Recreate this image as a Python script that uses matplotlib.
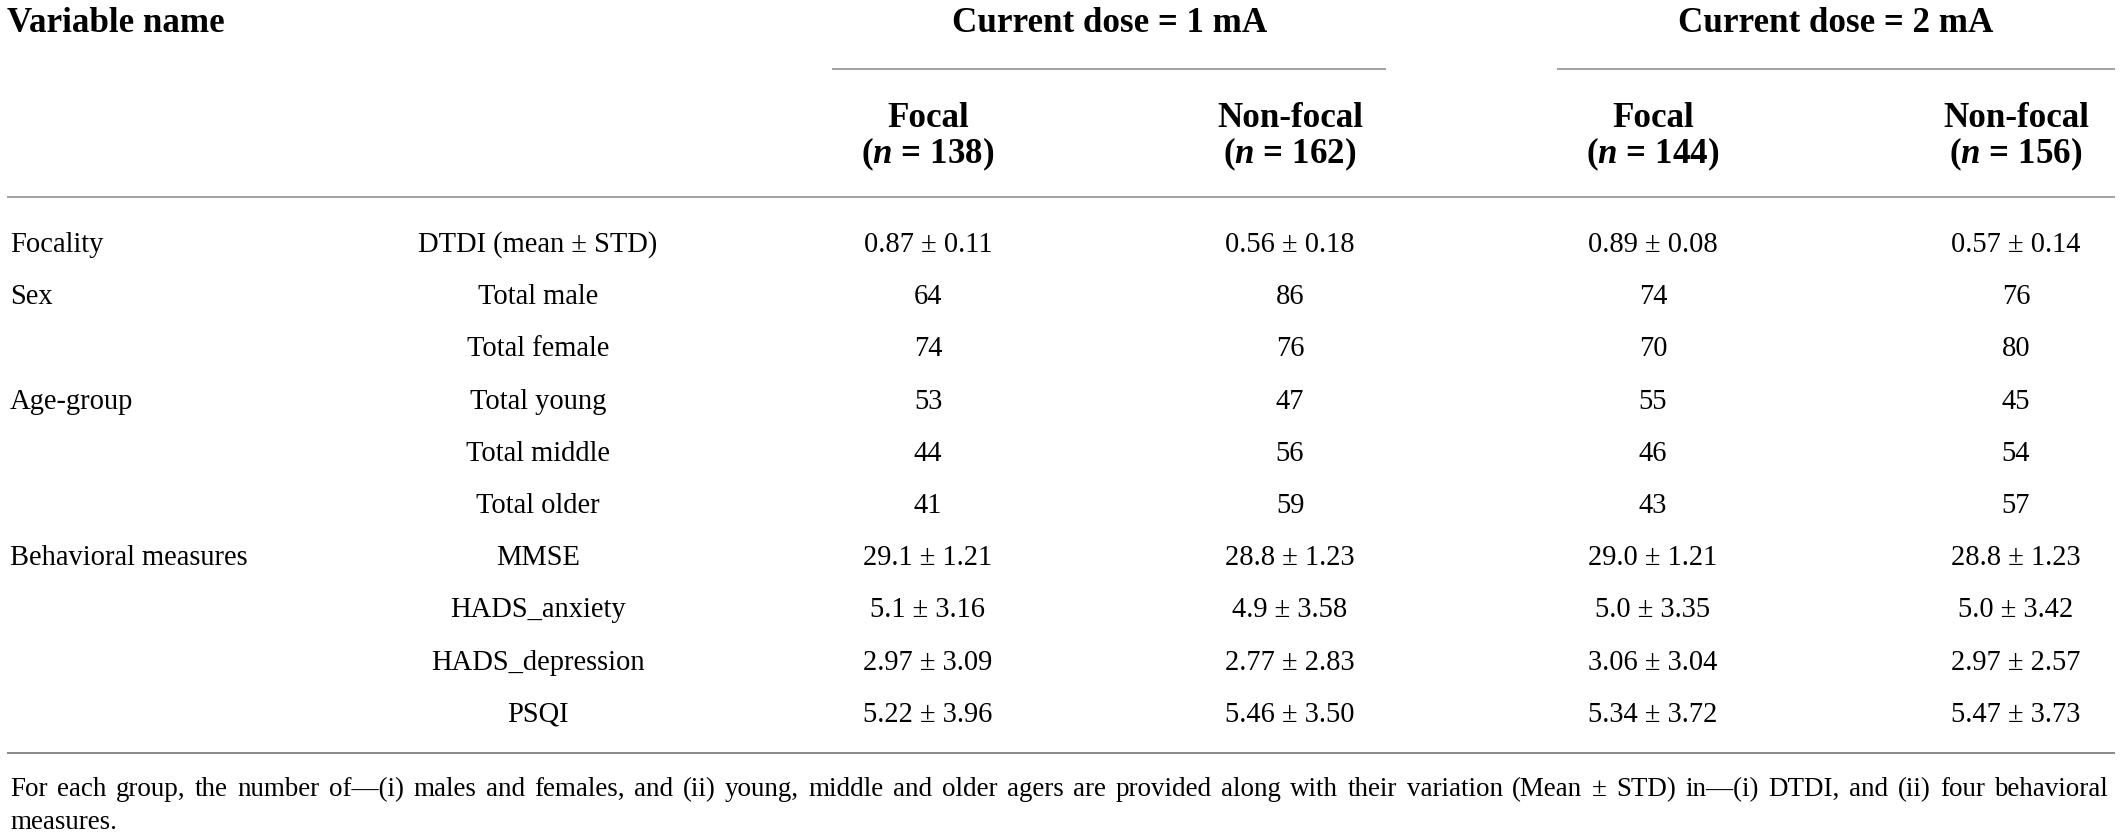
import matplotlib
matplotlib.use("Agg")
import matplotlib.pyplot as plt

plt.rcParams['font.family'] = ['Liberation Serif', 'DejaVu Serif']
plt.rcParams['mathtext.fontset'] = 'custom'
plt.rcParams['mathtext.it'] = 'Liberation Serif:italic:bold'
plt.rcParams['mathtext.rm'] = 'Liberation Serif:bold'

# ---------------- data ----------------
header_first = "Variable name"
dose_groups = ["Current dose = 1 mA", "Current dose = 2 mA"]
subgroups = ["Focal", "Non-focal", "Focal", "Non-focal"]
group_n = [138, 162, 144, 156]
categories = ["Focality", "Sex", "", "Age-group", "", "", "Behavioral measures", "", "", ""]
variables = ["DTDI (mean \u00b1 STD)", "Total male", "Total female", "Total young",
             "Total middle", "Total older", "MMSE", "HADS_anxiety",
             "HADS_depression", "PSQI"]
focal_1mA = ["0.87 \u00b1 0.11", "64", "74", "53", "44", "41",
             "29.1 \u00b1 1.21", "5.1 \u00b1 3.16", "2.97 \u00b1 3.09", "5.22 \u00b1 3.96"]
nonfocal_1mA = ["0.56 \u00b1 0.18", "86", "76", "47", "56", "59",
                "28.8 \u00b1 1.23", "4.9 \u00b1 3.58", "2.77 \u00b1 2.83", "5.46 \u00b1 3.50"]
focal_2mA = ["0.89 \u00b1 0.08", "74", "70", "55", "46", "43",
             "29.0 \u00b1 1.21", "5.0 \u00b1 3.35", "3.06 \u00b1 3.04", "5.34 \u00b1 3.72"]
nonfocal_2mA = ["0.57 \u00b1 0.14", "76", "80", "45", "54", "57",
                "28.8 \u00b1 1.23", "5.0 \u00b1 3.42", "2.97 \u00b1 2.57", "5.47 \u00b1 3.73"]
footnote = ("For each group, the number of\u2014(i) males and females, and (ii) young, middle and "
            "older agers are provided along with their variation (Mean \u00b1 STD) in\u2014(i) DTDI, "
            "and (ii) four behavioral", "measures.")

value_columns = [focal_1mA, nonfocal_1mA, focal_2mA, nonfocal_2mA]

# ---------------- layout (pixels) ----------------
W, H = 2121, 838
DPI = 100
px = 72.0 / DPI
fig = plt.figure(figsize=(W / DPI, H / DPI), dpi=DPI)
ax = fig.add_axes([0, 0, 1, 1])
ax.set_xlim(0, W)
ax.set_ylim(H, 0)
ax.axis('off')

HDR = 35 * px
BODY = 28.5 * px
FOOT = 27 * px

col_x = [928, 1290, 1653, 2016]
var_x = 538
cat_x = 10
group_x = [1110, 1836]
group_lines = [(832, 1386), (1557, 2115)]

# header
ax.text(7, 32, header_first, fontsize=HDR, fontweight='bold', ha='left', va='baseline')
for gx, g in zip(group_x, dose_groups):
    ax.text(gx, 32, g, fontsize=HDR, fontweight='bold', ha='center', va='baseline')
for x0, x1 in group_lines:
    ax.plot([x0, x1], [69, 69], color='#a3a3a3', lw=2 * px, solid_capstyle='butt')
for cx, sg, n in zip(col_x, subgroups, group_n):
    ax.text(cx, 127, sg, fontsize=HDR, fontweight='bold', ha='center', va='baseline')
    ax.text(cx, 163, "($n$ = %d)" % n, fontsize=HDR, fontweight='bold', ha='center', va='baseline')
ax.plot([7, 2115], [197, 197], color='#a3a3a3', lw=2 * px, solid_capstyle='butt')

# body
y0, dy = 252, 52.2
for i in range(len(variables)):
    y = y0 + dy * i
    if categories[i]:
        ax.text(cat_x, y, categories[i], fontsize=BODY, ha='left', va='baseline')
    ax.text(var_x, y, variables[i], fontsize=BODY, ha='center', va='baseline')
    for cx, col in zip(col_x, value_columns):
        ax.text(cx, y, col[i], fontsize=BODY, ha='center', va='baseline')

ax.plot([7, 2115], [753, 753], color='#8c8c8c', lw=2 * px, solid_capstyle='butt')

# footnote: first line justified
fig.canvas.draw()
renderer = fig.canvas.get_renderer()
words = footnote[0].split(" ")
objs = [ax.text(0, 796, w, fontsize=FOOT, ha='left', va='baseline') for w in words]
widths = [o.get_window_extent(renderer).width for o in objs]
left, right = 10, 2108
gap = (right - left - sum(widths)) / (len(words) - 1)
x = left
for o, w in zip(objs, widths):
    o.set_x(x)
    x += w + gap
ax.text(left, 829, footnote[1], fontsize=FOOT, ha='left', va='baseline')

fig.savefig("out.png", dpi=DPI, facecolor='white')
